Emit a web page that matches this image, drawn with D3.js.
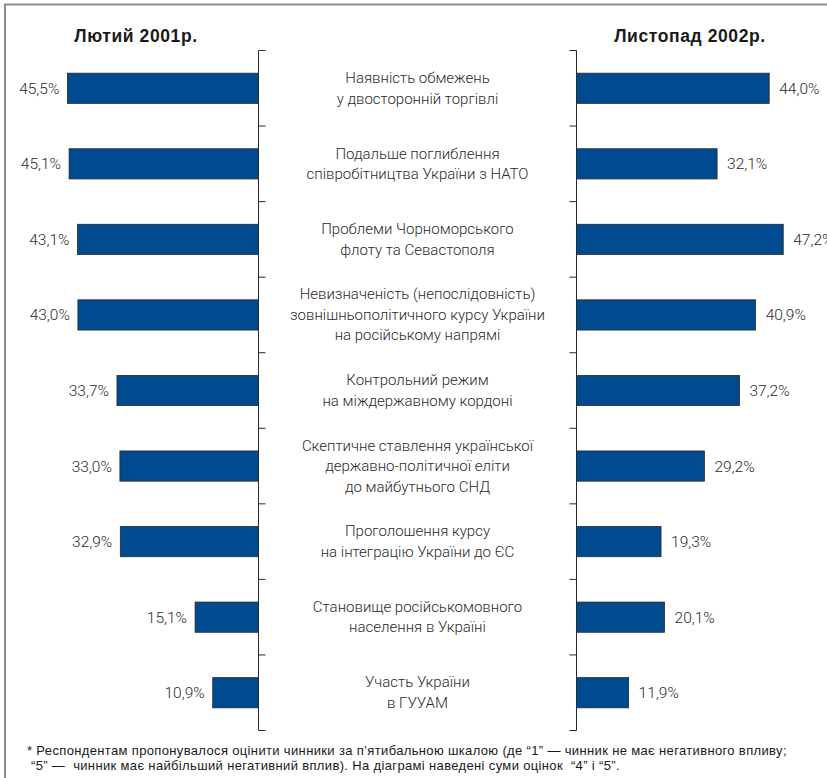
<!DOCTYPE html>
<html>
<head>
<meta charset="utf-8">
<script src="https://cdn.jsdelivr.net/npm/d3@7"></script>
<style>
  body { margin: 0; background: #fff; }
  svg { display: block; }
  .val, .cat { font-family: Roboto, "Open Sans", sans-serif; font-weight: 300; fill: #2b2b2b; }
  .head { font-family: "Liberation Sans", Arial, sans-serif; font-weight: 900; fill: #1a1a1a; }
  .note { font-family: "Liberation Sans", Arial, sans-serif; fill: #1a1a1a; }
</style>
</head>
<body>
<div id="chart"></div>
<script>
// factors (multi-line labels), Feb 2001 vs Nov 2002, % of "4"+"5" ratings
var categories = [
    ["Наявність обмежень", "у двосторонній торгівлі"],
    ["Подальше поглиблення", "співробітництва України з НАТО"],
    ["Проблеми Чорноморського", "флоту та Севастополя"],
    ["Невизначеність (непослідовність)", "зовнішньополітичного курсу України", "на російському напрямі"],
    ["Контрольний режим", "на міждержавному кордоні"],
    ["Скептичне ставлення української", "державно-політичної еліти", "до майбутнього СНД"],
    ["Проголошення курсу", "на інтеграцію України до ЄС"],
    ["Становище російськомовного", "населення в Україні"],
    ["Участь України", "в ГУУАМ"]
];
var feb2001 = [45.5, 45.1, 43.1, 43.0, 33.7, 33.0, 32.9, 15.1, 10.9];
var nov2002 = [44.0, 32.1, 47.2, 40.9, 37.2, 29.2, 19.3, 20.1, 11.9];
var headers = ["Лютий 2001р.", "Листопад 2002р."];
var footnote = [
    "* Респондентам пропонувалося оцінити чинники за п’ятибальною шкалою (де “1” — чинник не має негативного впливу;",
    " “5” —  чинник має найбільший негативний вплив). На діаграмі наведені суми оцінок  “4” і “5”."
];

var W = 827, H = 778;
var leftAxisX = 258.5, rightAxisX = 576.5;

var svg = d3.select("#chart").append("svg")
        .attr("width", W)
        .attr("height", H);

// frame
svg.append("rect")
    .attr("x", 5).attr("y", 4.5)
    .attr("width", 840).attr("height", 800)
    .attr("fill", "none")
    .attr("stroke", "#8c8c8c")
    .attr("stroke-width", 2);

var y = d3.scaleBand()
        .domain(d3.range(categories.length))
        .range([50.5, 730.5]);

var xLeft = d3.scaleLinear().domain([0, 50]).range([leftAxisX, leftAxisX - 210]);
var xRight = d3.scaleLinear().domain([0, 50]).range([rightAxisX, rightAxisX + 219]);

var barH = y.bandwidth() * 0.4;
var fmt = function(v) { return d3.format(".1f")(v).replace(".", ",") + "%"; };

// bars
svg.append("g").selectAll("rect")
    .data(feb2001)
  .enter().append("rect")
    .attr("x", function(d) { return xLeft(d); })
    .attr("y", function(d, i) { return y(i) + (y.bandwidth() - barH) / 2; })
    .attr("width", function(d) { return xLeft(0) - xLeft(d); })
    .attr("height", barH)
    .attr("fill", "#004a8f")
    .attr("stroke", "#2a2a2a")
    .attr("stroke-width", 0.8);

svg.append("g").selectAll("rect")
    .data(nov2002)
  .enter().append("rect")
    .attr("x", xRight(0))
    .attr("y", function(d, i) { return y(i) + (y.bandwidth() - barH) / 2; })
    .attr("width", function(d) { return xRight(d) - xRight(0); })
    .attr("height", barH)
    .attr("fill", "#004a8f")
    .attr("stroke", "#2a2a2a")
    .attr("stroke-width", 0.8);

// value labels
svg.append("g").selectAll("text")
    .data(feb2001)
  .enter().append("text")
    .attr("class", "val")
    .attr("x", function(d) { return xLeft(d) - 8; })
    .attr("y", function(d, i) { return y(i) + y.bandwidth() / 2 + 5.5; })
    .attr("text-anchor", "end")
    .style("font-size", "15.5px")
    .text(fmt);

svg.append("g").selectAll("text")
    .data(nov2002)
  .enter().append("text")
    .attr("class", "val")
    .attr("x", function(d) { return xRight(d) + 10; })
    .attr("y", function(d, i) { return y(i) + y.bandwidth() / 2 + 5.5; })
    .style("font-size", "15.5px")
    .text(fmt);

// axes: vertical line with ticks at band boundaries
var tickYs = d3.range(categories.length + 1).map(function(i) {
    return i < categories.length ? y(i) : y.range()[1];
});

[[leftAxisX, 7], [rightAxisX, -7]].forEach(function(a) {
    var g = svg.append("g").attr("stroke", "#2a2a2a").attr("stroke-width", 1);
    g.append("line")
        .attr("x1", a[0]).attr("x2", a[0])
        .attr("y1", y.range()[0]).attr("y2", y.range()[1]);
    g.selectAll(".tick")
        .data(tickYs)
      .enter().append("line")
        .attr("x1", a[0]).attr("x2", a[0] + a[1])
        .attr("y1", function(d) { return d; })
        .attr("y2", function(d) { return d; });
});

// category labels in the middle
var midX = (leftAxisX + rightAxisX) / 2;
var lineH = 20.5;
svg.append("g").selectAll("text")
    .data(categories)
  .enter().append("text")
    .attr("class", "cat")
    .attr("text-anchor", "middle")
    .style("font-size", "15px")
    .each(function(lines, i) {
        var cy = y(i) + y.bandwidth() / 2;
        d3.select(this).selectAll("tspan")
            .data(lines)
          .enter().append("tspan")
            .attr("x", midX)
            .attr("y", function(d, j) { return cy + (j - (lines.length - 1) / 2) * lineH + 5; })
            .text(function(d) { return d; });
    });

// headers
svg.append("text")
    .attr("class", "head")
    .attr("x", 136).attr("y", 42)
    .attr("text-anchor", "middle")
    .style("font-size", "17.5px")
    .style("letter-spacing", "0.6px")
    .text(headers[0]);

svg.append("text")
    .attr("class", "head")
    .attr("x", 690).attr("y", 42)
    .attr("text-anchor", "middle")
    .style("font-size", "17.5px")
    .style("letter-spacing", "0.6px")
    .text(headers[1]);

// footnote
svg.append("g").selectAll("text")
    .data(footnote)
  .enter().append("text")
    .attr("class", "note")
    .attr("x", 27)
    .attr("y", function(d, i) { return 755 + i * 14.5; })
    .style("font-size", "13px")
    .style("letter-spacing", "0.35px")
    .attr("xml:space", "preserve")
    .text(function(d) { return d; });
</script>
</body>
</html>
